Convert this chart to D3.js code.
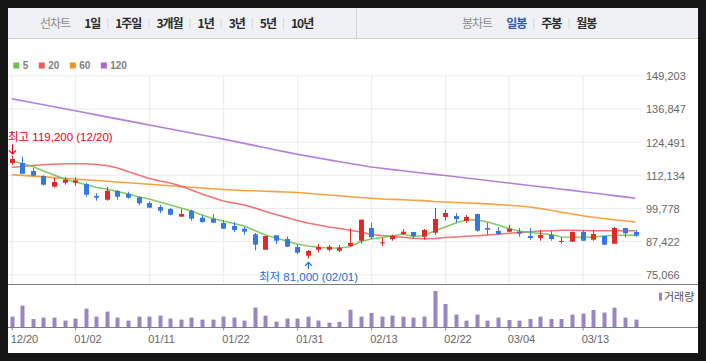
<!DOCTYPE html>
<html>
<head>
<meta charset="utf-8">
<script src="https://cdn.jsdelivr.net/npm/d3@7"></script>
<style>
  body { margin: 0; background: #161616; }
  svg { display: block; }
  text { font-family: "Liberation Sans", Arial, "Noto Sans CJK KR", sans-serif; }
</style>
</head>
<body>
<script>
// daily candles
var dates = ["12/20","12/21","12/24","12/26","12/27","12/28","01/02","01/03","01/04","01/07",
  "01/08","01/09","01/10","01/11","01/14","01/15","01/16","01/17","01/18","01/21",
  "01/22","01/23","01/24","01/25","01/28","01/29","01/30","01/31","02/01","02/04",
  "02/07","02/08","02/11","02/12","02/13","02/14","02/15","02/18","02/19","02/20",
  "02/21","02/22","02/25","02/26","02/27","02/28","03/01","03/04","03/05","03/06",
  "03/07","03/08","03/11","03/12","03/13","03/14","03/15","03/18","03/19","03/20"];

var openP = [116530,116530,113550,111690,107700,109190,109190,108700,104230,102860,
  106100,104980,103750,101630,100140,99390,96530,98760,96150,95780,
  94180,93060,92060,89970,84230,89600,88220,85240,82000,84230,
  84230,83860,85610,87580,92310,86900,88220,90080,90830,89080,
  90560,96410,96790,94920,97530,92310,91200,90940,90940,89340,
  88590,89710,87400,87210,90830,87950,89340,86470,92310,90830];
var highP = [119200,118880,114660,111950,110940,111200,111200,109080,105240,107590,
  106470,105830,104050,102260,100890,99770,99390,99130,97160,97530,
  95300,94550,92690,90450,89400,89700,89220,86240,84120,86350,
  85980,85980,92200,95500,94290,88590,89820,91940,90900,91940,
  99770,99130,97900,97160,97600,94290,92690,93430,92310,92310,
  91570,91200,88850,91000,91570,91570,89400,92690,92400,91570];
var lowP = [115900,112500,111700,108070,107330,108450,108070,103970,102500,102500,
  102860,103230,100770,99750,97900,97040,96530,95030,94290,94200,
  91930,90830,89820,84010,84100,86350,85200,82630,81000,83260,
  83630,83370,85350,86470,88220,85610,87580,89710,88330,87950,
  89820,95030,94180,94290,90940,89710,89710,90830,89080,87950,
  87580,87580,86470,87100,87500,87580,86000,86400,88700,89000];
var closeP = [118020,112540,111800,108450,109450,110310,110090,104720,103600,106200,
  103970,103600,101520,99880,98760,97270,97530,95780,94550,94290,
  92060,91570,90940,86100,89340,87580,85350,83110,83750,85240,
  85350,84980,86730,95410,88850,87000,89450,90940,89340,91570,
  95670,97900,95670,96410,91310,91680,90080,92060,90190,88590,
  89710,88220,87500,90830,87580,90080,86100,92310,90340,89450];
var volume = [214000,434000,166000,194000,194000,134000,174000,374000,214000,314000,
  194000,134000,214000,214000,234000,174000,154000,194000,154000,154000,
  214000,194000,134000,394000,234000,114000,174000,174000,214000,134000,
  94000,110000,350000,214000,286000,214000,234000,214000,194000,214000,
  726000,466000,254000,134000,254000,134000,194000,146000,134000,166000,
  214000,166000,166000,254000,274000,346000,294000,394000,194000,154000];

// moving averages as drawn
var ma5 = [117390,116340,115230,113550,112060,110570,109450,108520,107400,106840,
  105910,104980,103940,103120,102000,100880,99770,98650,97160,95850,
  94920,93990,93060,91380,89710,88590,87470,86350,85610,85120,
  84860,84860,85350,87290,88220,88780,89330,90080,89150,89520,
  91200,92690,94180,95300,95410,94550,93430,92130,91200,90640,
  90270,89890,88960,88850,88850,88850,89330,89600,89600,89600];
var ma20 = [114930,115230,115600,115900,116080,116230,116270,116230,115970,115600,
  114670,113360,112060,110760,109820,109080,107960,106470,104980,103680,
  102370,101630,100880,99770,98460,97340,96230,95110,94180,93430,
  92690,92130,91460,90820,89890,89520,89150,88850,88480,88330,
  88400,88780,88960,89220,89450,89710,90010,90340,90640,90940,
  91200,91310,91460,91460,91380,91310,91310,91310,91310,91310];
var ma60 = [112170,111910,111650,111390,111090,110830,110570,110270,110010,109710,
  109450,109150,108890,108630,108330,108070,107780,107520,107220,106920,
  106660,106470,106280,106170,106020,105870,105730,105540,105240,104910,
  104610,104310,103980,103680,103380,103120,102970,102820,102670,102520,
  102190,102000,101820,101630,101480,101290,101070,100810,100510,100140,
  99580,98910,98200,97530,96860,96340,95850,95410,95000,94550];
var ma120 = [140490,139740,139000,138210,137470,136720,135980,135230,134450,133710,
  132960,132220,131470,130690,129940,129200,128450,127710,126960,126220,
  125430,124650,123830,123010,122190,121370,120590,119810,119100,118390,
  117690,117020,116340,115670,115040,114560,114070,113630,113180,112730,
  112280,111870,111390,110940,110460,110010,109530,109080,108630,108150,
  107700,107220,106770,106320,105840,105350,104870,104390,103900,103380];

var maLabels = ["5", "20", "60", "120"];
var maColors = ["#6cc24a", "#f0585a", "#f6901e", "#a866d6"];
var yTicks = [75066, 87422, 99778, 112134, 124491, 136847, 149203];
var xTicks = ["12/20","01/02","01/11","01/22","01/31","02/13","02/22","03/04","03/13"];
var lineMenu = ["1일", "1주일", "3개월", "1년", "3년", "5년", "10년"];
var candleMenu = ["일봉", "주봉", "월봉"];

var width = 706, height = 361;
var upColor = "#e2292a", downColor = "#3479e0";

var svg = d3.select("body").append("svg")
  .attr("width", width)
  .attr("height", height);

// white panel inside the dark frame
svg.append("rect")
  .attr("x", 8).attr("y", 8)
  .attr("width", 690).attr("height", 345)
  .attr("fill", "#fff");

// top tool bar
var bar = svg.append("g");
bar.append("rect")
  .attr("x", 8).attr("y", 8)
  .attr("width", 690).attr("height", 30)
  .attr("fill", "#f0f1f5");
bar.append("line")
  .attr("x1", 8).attr("x2", 698).attr("y1", 38.5).attr("y2", 38.5)
  .attr("stroke", "#cfd1d9");
bar.append("line")
  .attr("x1", 356.5).attr("x2", 356.5).attr("y1", 8).attr("y2", 38)
  .attr("stroke", "#cfd1d9");

function menu(title, items, x0, active) {
  var t = bar.append("text")
    .attr("x", x0).attr("y", 27.5)
    .attr("fill", "#8a8a8a")
    .style("font-family", "Noto Sans CJK KR")
    .style("font-size", "12px")
    .style("letter-spacing", "-1px")
    .text(title);
  var xx = x0 + t.node().getComputedTextLength() + 14;
  items.forEach(function(s, i) {
    if (i > 0) {
      bar.append("line")
        .attr("x1", xx + 7.5).attr("x2", xx + 7.5)
        .attr("y1", 18).attr("y2", 29)
        .attr("stroke", "#d8d8dc");
      xx += 15;
    }
    var tt = bar.append("text")
      .attr("x", xx).attr("y", 27.5)
      .attr("fill", s === active ? "#2c5bb4" : "#2a2a2a")
      .style("font-family", "Noto Sans CJK KR")
      .style("font-size", "12px")
      .style("font-weight", "bold")
      .style("letter-spacing", "-1px")
      .text(s);
    xx += tt.node().getComputedTextLength();
  });
}
menu("선차트", lineMenu, 40, null);
menu("봉차트", candleMenu, 462, "일봉");

// scales
var x = d3.scalePoint().domain(dates).range([11.7, 635.5]);
var y = d3.scaleLinear().domain([75066, 149203]).range([274.3, 75.3]);
var yv = d3.scaleLinear().domain([0, d3.max(volume)]).range([327.3, 291]);

// grid
var gridY = svg.append("g")
  .attr("transform", "translate(8,0)")
  .call(d3.axisLeft(y).tickValues(yTicks).tickSize(-634).tickFormat(""));
gridY.select(".domain").remove();
gridY.selectAll("line").attr("stroke", "#ebebeb");

var gridX = svg.append("g")
  .attr("transform", "translate(0,284)")
  .call(d3.axisBottom(x).tickValues(xTicks).tickSize(-209).tickFormat(""));
gridX.select(".domain").remove();
gridX.selectAll("line").attr("stroke", "#ebebeb");

// y labels
var yAxis = svg.append("g")
  .attr("transform", "translate(642,1)")
  .call(d3.axisRight(y).tickValues(yTicks).tickSize(0).tickPadding(4).tickFormat(d3.format(",")));
yAxis.select(".domain").remove();
yAxis.selectAll("text")
  .attr("fill", "#666")
  .style("font-size", "11px")
  .style("font-family", "Liberation Sans, Arial, sans-serif");

// separators of the panels
svg.append("line")
  .attr("x1", 8).attr("x2", 698).attr("y1", 284.5).attr("y2", 284.5)
  .attr("stroke", "#7d7d7d");

// legend
var lx = 13.3;
maLabels.forEach(function(s, i) {
  svg.append("rect")
    .attr("x", lx).attr("y", 62.5)
    .attr("width", 6).attr("height", 6)
    .attr("fill", maColors[i]);
  var t = svg.append("text")
    .attr("x", lx + 9.4).attr("y", 69.3)
    .attr("fill", "#808080")
    .style("font-size", "10px")
    .style("font-weight", "bold")
    .text(s);
  lx += 9.4 + t.node().getComputedTextLength() + 10.5;
});

// moving average lines
var line = d3.line()
  .x(function(d, i) { return x(dates[i]); })
  .y(function(d) { return y(d); });
[ma120, ma60, ma20, ma5].forEach(function(arr, k) {
  svg.append("path")
    .datum(arr)
    .attr("d", line)
    .attr("fill", "none")
    .attr("stroke", maColors[3 - k])
    .attr("stroke-width", 1.6)
    .attr("stroke-opacity", 0.85);
});

// candles
var candles = svg.append("g");
dates.forEach(function(d, i) {
  var up = closeP[i] >= openP[i];
  var col = up ? upColor : downColor;
  var cx = Math.round(x(d)) + 0.5;
  candles.append("line")
    .attr("x1", cx).attr("x2", cx)
    .attr("y1", y(highP[i])).attr("y2", y(lowP[i]))
    .attr("stroke", col);
  var top = y(Math.max(openP[i], closeP[i]));
  var bot = y(Math.min(openP[i], closeP[i]));
  candles.append("rect")
    .attr("x", cx - 2.5)
    .attr("y", top)
    .attr("width", 5)
    .attr("height", Math.max(1, bot - top))
    .attr("fill", col);
});

// highest / lowest marks
var hi = d3.maxIndex(highP), lo = d3.minIndex(lowP);
var hx = Math.round(x(dates[hi])) + 0.5, hy = y(highP[hi]);
svg.append("path")
  .attr("d", "M" + hx + "," + (hy - 11.5) + "V" + (hy - 2) + "M" + (hx - 3.5) + "," + (hy - 5.5) + "L" + hx + "," + (hy - 2) + "L" + (hx + 3.5) + "," + (hy - 5.5))
  .attr("fill", "none").attr("stroke", "#e60012").attr("stroke-width", 1.2);
var ht = svg.append("text")
  .attr("y", hy - 14.5)
  .attr("fill", "#e60012")
  .style("font-size", "11.5px")
  .text("최고 " + d3.format(",")(highP[hi]) + " (" + dates[hi] + ")");
ht.attr("x", Math.max(8, hx - ht.node().getComputedTextLength() / 2));

var lx2 = Math.round(x(dates[lo])) + 0.5, ly = y(lowP[lo]);
svg.append("path")
  .attr("d", "M" + lx2 + "," + (ly + 11) + "V" + (ly + 4) + "M" + (lx2 - 3.5) + "," + (ly + 7.5) + "L" + lx2 + "," + (ly + 4) + "L" + (lx2 + 3.5) + "," + (ly + 7.5))
  .attr("fill", "none").attr("stroke", "#1d6fd6").attr("stroke-width", 1.2);
var lt = svg.append("text")
  .attr("y", ly + 22.3)
  .attr("fill", "#1d6fd6")
  .style("font-size", "11.5px")
  .text("최저 " + d3.format(",")(lowP[lo]) + " (" + dates[lo] + ")");
lt.attr("x", lx2 - lt.node().getComputedTextLength() / 2);

// volume bars
svg.append("g").selectAll("rect")
  .data(volume)
  .join("rect")
  .attr("x", function(d, i) { return Math.round(x(dates[i])) - 1.5; })
  .attr("y", function(d) { return yv(d); })
  .attr("width", 4)
  .attr("height", function(d) { return yv(0) - yv(d); })
  .attr("fill", "#9a85c4");

svg.append("rect")
  .attr("x", 659).attr("y", 292.7)
  .attr("width", 3).attr("height", 8)
  .attr("fill", "#9a85c4");
svg.append("text")
  .attr("x", 664).attr("y", 300.5)
  .attr("fill", "#555")
  .style("font-size", "11px")
  .text("거래량");

// x axis under the volume
var xAxis = svg.append("g")
  .attr("transform", "translate(0,327.5)")
  .call(d3.axisBottom(x).tickValues(xTicks).tickSize(3).tickPadding(5));
xAxis.select(".domain").remove();
xAxis.selectAll("line").attr("stroke", "#888");
xAxis.selectAll("text")
  .attr("text-anchor", "start")
  .attr("dx", -1.5)
  .attr("fill", "#666")
  .style("font-size", "11px")
  .style("font-family", "Liberation Sans, Arial, sans-serif");

svg.append("line")
  .attr("x1", 8).attr("x2", 698).attr("y1", 327.5).attr("y2", 327.5)
  .attr("stroke", "#7d7d7d");
</script>
</body>
</html>
